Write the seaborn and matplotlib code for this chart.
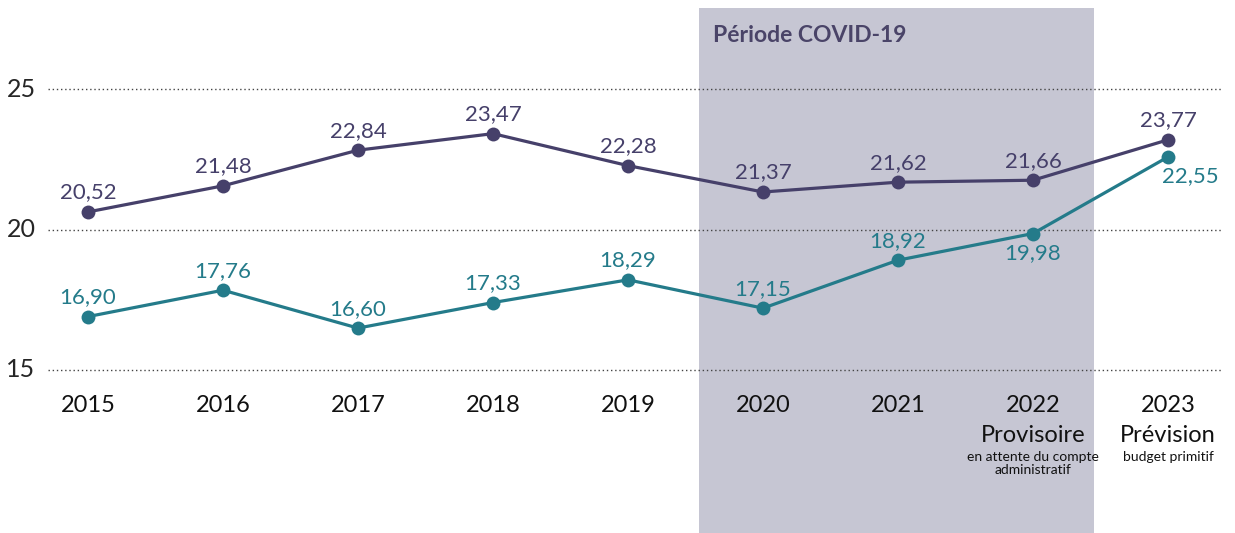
import pandas as pd
import numpy as np
import matplotlib.pyplot as plt
import matplotlib.transforms as mtransforms
import seaborn as sns

# données
annees = [2015, 2016, 2017, 2018, 2019, 2020, 2021, 2022, 2023]
serie_violette = [20.63, 21.56, 22.83, 23.42, 22.28, 21.34, 21.69, 21.76, 23.20]
serie_bleue = [16.90, 17.84, 16.49, 17.40, 18.21, 17.20, 18.91, 19.86, 22.59]
etiq_violette = ["20,52", "21,48", "22,84", "23,47", "22,28", "21,37", "21,62", "21,66", "23,77"]
etiq_bleue = ["16,90", "17,76", "16,60", "17,33", "18,29", "17,15", "18,92", "19,98", "22,55"]
sous_titres = {2022: ("Provisoire", "en attente du compte\nadministratif"),
               2023: ("Prévision", "budget primitif")}
covid_debut, covid_fin = 2019.526, 2022.452

violet = "#46406a"
bleu = "#247b8a"

sns.set_style("white")
plt.rcParams['font.family'] = ['Lato', 'DejaVu Sans']

W, H = 1235, 533
fig = plt.figure(figsize=(W / 100, H / 100), dpi=100)
ax = fig.add_axes([48 / W, 0, (1222 - 48) / W, 1])

df = pd.DataFrame({
    "annee": annees * 2,
    "valeur": serie_violette + serie_bleue,
    "serie": ["violet"] * len(annees) + ["bleu"] * len(annees),
})

ax.axvspan(covid_debut, covid_fin, ymin=0, ymax=1 - 8 / H, color="#c6c6d3", lw=0, zorder=0)

sns.lineplot(data=df, x="annee", y="valeur", hue="serie", palette={"violet": violet, "bleu": bleu},
             marker="o", markersize=10, markeredgewidth=0, linewidth=2.3, legend=False, ax=ax, zorder=3)

ax.set_xlim(2015 - 40 / 135, 2015 + (1222 - 88) / 135)
ax.set_ylim(25 - (533 - 89.3) / 28.06, 25 + 89.3 / 28.06)

ax.set_yticks([15, 20, 25])
ax.set_yticklabels(["15", "20", "25"], fontsize=18)
decal = mtransforms.ScaledTranslation(0, 4 / 100, fig.dpi_scale_trans)
for t in ax.get_yticklabels():
    t.set_verticalalignment("center")
    t.set_transform(t.get_transform() + decal)
ax.tick_params(axis="y", length=0, pad=9)
ax.set_xticks([])
ax.grid(axis="y", linestyle=(0, (1, 2)), color="#444444", linewidth=1)
ax.set_xlabel("")
ax.set_ylabel("")
for s in ax.spines.values():
    s.set_visible(False)
ax.patch.set_alpha(0)

# étiquettes des valeurs
for i, a in enumerate(annees):
    ax.annotate(etiq_violette[i], (a, serie_violette[i]), xytext=(0, 14), textcoords="offset points",
                ha="center", va="center", fontsize=16, color=violet)
    if a == 2022:
        off = (0, -14)
    elif a == 2023:
        off = (16, -14)
    else:
        off = (0, 14)
    ax.annotate(etiq_bleue[i], (a, serie_bleue[i]), xytext=off, textcoords="offset points",
                ha="center", va="center", fontsize=16, color=bleu)

# années en bas
tr = ax.get_xaxis_transform()
for a in annees:
    ax.text(a, 1 - 405 / H, str(a), transform=tr, ha="center", va="center", fontsize=17, color="#111111")
    if a in sous_titres:
        t1, t2 = sous_titres[a]
        ax.text(a, 1 - 435 / H, t1, transform=tr, ha="center", va="center", fontsize=17, color="#111111")
        ax.text(a, 1 - 451 / H, t2, transform=tr, ha="center", va="top", fontsize=10,
                color="#111111", linespacing=1.05)

ax.text(covid_debut + 14 / 135, 1 - 35 / H, "Période COVID-19", transform=tr, ha="left", va="center",
        fontsize=16.5, fontweight="bold", color="#4a4468")

fig.savefig("out.png", dpi=100)
